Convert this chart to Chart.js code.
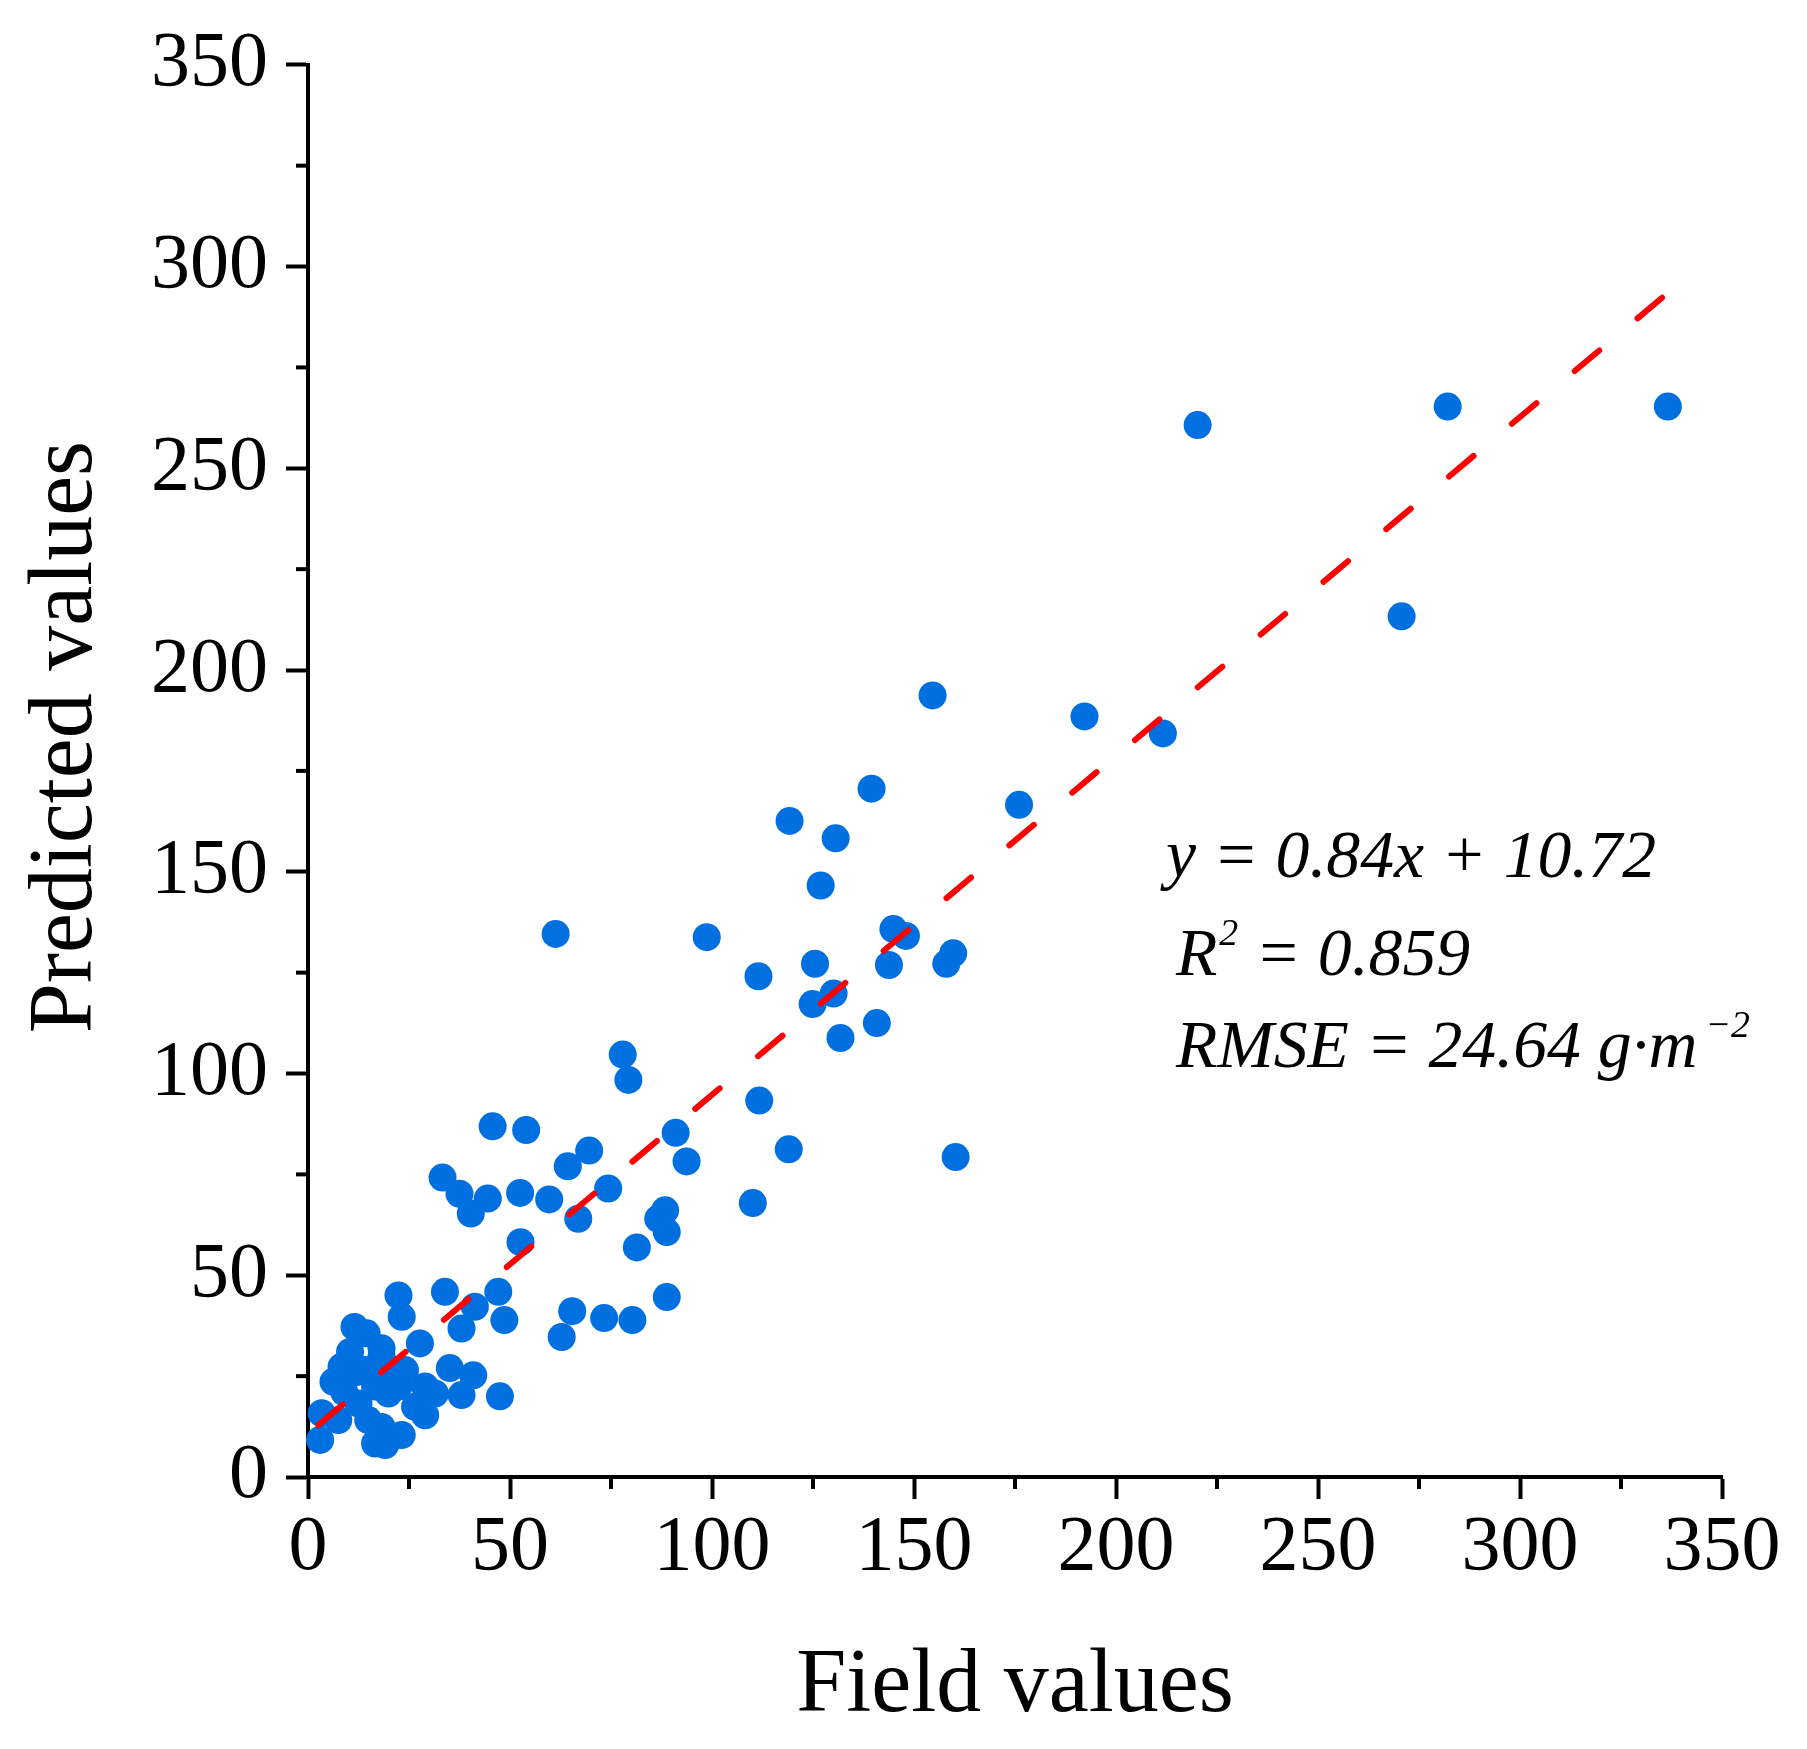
<!DOCTYPE html>
<html>
<head>
<meta charset="utf-8">
<title>Predicted vs field values</title>
<script src="https://cdn.jsdelivr.net/npm/chart.js@4.4.0/dist/chart.umd.min.js"></script>
<style>
    html, body { margin: 0; padding: 0; background: #fff; }
    #wrap { width: 1807px; height: 1749px; position: relative; }
</style>
</head>
<body>
<div id="wrap"><canvas id="scatterChart"></canvas></div>
<script>
// --- data ---
const fieldValues = [
    336.6, 282.1, 220.2, 270.7, 211.6, 192.2, 154.6, 176.0, 139.5, 119.2,
    130.6, 126.9, 144.9, 148.0, 159.7, 158.0, 143.8, 125.5, 111.5, 98.7,
    61.3, 130.1, 124.9, 140.8, 131.8, 77.9, 79.3, 111.7, 119.0, 160.3,
    110.1, 45.7, 54.0, 91.0, 69.6, 64.3, 93.7, 33.3, 37.5, 44.5,
    40.3, 52.5, 59.7, 74.3, 66.9, 81.4, 88.4, 86.7, 88.8, 52.6,
    65.4, 62.8, 73.3, 80.3, 88.8, 22.4, 23.2, 33.9, 47.1, 41.3,
    38.0, 48.6, 27.7, 35.1, 40.9, 38.0, 31.4, 47.5, 29.0, 29.0,
    11.5, 14.5, 18.2, 10.4, 6.3, 3.4, 3.0, 24.0, 14.1, 16.6,
    12.5, 14.9, 19.9, 22.4, 16.6, 19.1, 23.2, 18.2, 8.3, 26.5,
    7.5, 18.2, 9.0, 20.0, 12.0
];
const predictedValues = [
    265.3, 265.3, 260.7, 213.3, 184.3, 188.5, 193.7, 166.6, 170.6, 162.6,
    158.3, 146.6, 135.8, 134.1, 129.8, 127.2, 126.9, 127.2, 124.1, 133.8,
    134.6, 119.8, 117.2, 112.5, 108.8, 104.7, 98.4, 93.3, 81.2, 79.3,
    67.9, 86.9, 86.0, 85.3, 80.9, 77.0, 78.2, 74.2, 70.2, 69.0,
    65.3, 70.4, 68.8, 71.5, 64.0, 56.9, 66.1, 64.0, 60.7, 58.2,
    41.1, 34.7, 39.4, 38.9, 44.6, 45.0, 39.7, 45.9, 45.9, 42.2,
    36.8, 38.9, 33.1, 27.0, 25.2, 20.3, 20.7, 20.0, 22.4, 15.3,
    37.2, 35.6, 31.9, 31.0, 23.6, 15.8, 9.2, 26.5, 26.5, 22.4,
    18.2, 14.1, 20.7, 22.4, 8.3, 7.9, 10.4, 29.8, 27.3, 17.4,
    14.1, 12.4, 21.0, 27.0, 26.0
];

const axisMin = 0;
const axisMax = 350;
const majorStep = 50;
const minorTicks = [25, 75, 125, 175, 225, 275, 325];

// regression line y = a*x + b over the range of the data
const fitSlope = 0.84;
const fitIntercept = 10.72;
const fitRange = [2.55, 336.1];

const xTitle = 'Field values';
const yTitle = 'Predicted values';
// each line: main text, optional superscript, optional tail
const statLines = [
    ['y = 0.84x + 10.72', '', ''],
    ['R', '2', ' = 0.859'],
    ['RMSE = 24.64 g\u00b7m', '\u22122', '']
];

const serif = '"Liberation Serif", "Times New Roman", serif';

// --- build datasets ---
const points = fieldValues.map((v, i) => ({ x: v, y: predictedValues[i] }));
const fitLine = fitRange.map(v => ({ x: v, y: fitSlope * v + fitIntercept }));

// minor ticks, rotated y title and the stats text
const extras = {
    id: 'extras',
    afterDraw(chart) {
        const ctx = chart.ctx;
        const xs = chart.scales.x;
        const ys = chart.scales.y;

        ctx.save();
        ctx.strokeStyle = '#000';
        ctx.lineWidth = 4;
        minorTicks.forEach(v => {
            const px = xs.getPixelForValue(v);
            ctx.beginPath();
            ctx.moveTo(px, xs.top);
            ctx.lineTo(px, xs.top + 12);
            ctx.stroke();
            const py = ys.getPixelForValue(v);
            ctx.beginPath();
            ctx.moveTo(ys.right, py);
            ctx.lineTo(ys.right - 12, py);
            ctx.stroke();
        });
        ctx.restore();

        ctx.save();
        ctx.fillStyle = '#000';
        ctx.font = '90px ' + serif;
        ctx.textAlign = 'center';
        ctx.textBaseline = 'middle';
        ctx.translate(67, 737);
        ctx.rotate(-Math.PI / 2);
        ctx.fillText(yTitle, 0, 0);
        ctx.restore();

        // stats block
        const mainFont = 'italic 68px ' + serif;
        const supFont = 'italic 38px ' + serif;
        ctx.save();
        ctx.fillStyle = '#000';
        ctx.textAlign = 'left';
        ctx.textBaseline = 'alphabetic';
        ctx.font = mainFont;
        const sx = 490 / ctx.measureText(statLines[0][0]).width;
        const left = [1166, 1176, 1176];
        const base = [877, 975, 1067];
        const supGap = [0, 2, 8];
        statLines.forEach((line, i) => {
            ctx.save();
            ctx.translate(left[i], base[i]);
            ctx.scale(sx, 1);
            ctx.font = mainFont;
            ctx.fillText(line[0], 0, 0);
            let cx = ctx.measureText(line[0]).width + supGap[i];
            if (line[1]) {
                ctx.font = supFont;
                ctx.fillText(line[1], cx, -30);
                cx += ctx.measureText(line[1]).width;
            }
            if (line[2]) {
                ctx.font = mainFont;
                ctx.fillText(line[2], cx, 0);
            }
            ctx.restore();
        });
        ctx.restore();
    }
};

const axisCommon = {
    type: 'linear',
    min: axisMin,
    max: axisMax,
    grid: {
        drawOnChartArea: false,
        drawTicks: true,
        tickLength: 22,
        tickWidth: 4,
        tickColor: '#000'
    },
    border: { display: true, width: 4, color: '#000' }
};

new Chart(document.getElementById('scatterChart').getContext('2d'), {
    type: 'scatter',
    data: {
        datasets: [
            {
                label: 'fit',
                data: fitLine,
                showLine: true,
                borderColor: '#ff0000',
                borderWidth: 6,
                borderDash: [32, 50],
                borderCapStyle: 'round',
                pointRadius: 0,
                order: 0,
                clip: false
            },
            {
                label: 'samples',
                data: points,
                backgroundColor: '#0070e0',
                borderWidth: 0,
                pointRadius: 14,
                order: 1,
                clip: false
            }
        ]
    },
    options: {
        responsive: true,
        maintainAspectRatio: false,
        animation: false,
        devicePixelRatio: 1,
        layout: { padding: { top: 63, right: 85, left: 0, bottom: 0 } },
        plugins: {
            legend: { display: false },
            tooltip: { enabled: false }
        },
        scales: {
            x: Object.assign({}, axisCommon, {
                position: 'bottom',
                ticks: {
                    stepSize: majorStep,
                    padding: 3,
                    color: '#000',
                    font: { family: serif, size: 78 },
                    maxRotation: 0
                },
                title: {
                    display: true,
                    text: xTitle,
                    color: '#000',
                    font: { family: serif, size: 90 },
                    padding: { top: 0, bottom: 8 }
                },
                afterFit: s => { s.height = 272; }
            }),
            y: Object.assign({}, axisCommon, {
                position: 'left',
                ticks: {
                    stepSize: majorStep,
                    padding: 18,
                    color: '#000',
                    font: { family: serif, size: 78 }
                },
                afterFit: s => { s.width = 308; }
            })
        }
    },
    plugins: [extras]
});
</script>
</body>
</html>
